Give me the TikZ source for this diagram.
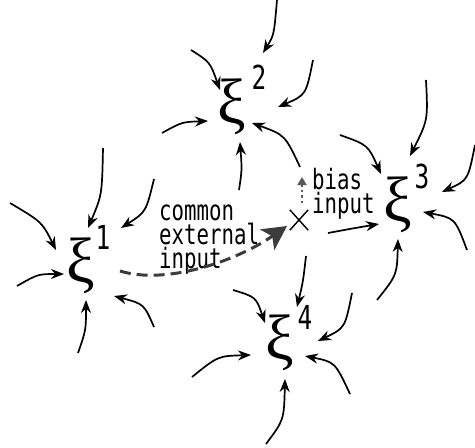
\documentclass[tikz,border=0pt]{standalone}
\usepackage{fontspec}
\usetikzlibrary{arrows.meta,shapes.misc}
\newfontfamily\gfont[FakeStretch=0.74]{DejaVu Sans Mono}
\newfontfamily\xifont{Liberation Serif}
\definecolor{dashgray}{HTML}{3C3C3C}
\definecolor{dotgray}{HTML}{5A5A5A}

\begin{document}
\begin{tikzpicture}[x=1pt,y=-1pt,
  xi/.style={inner sep=0pt, font=\xifont\fontsize{64}{64}\selectfont},
  idx/.style={inner sep=0pt, font=\gfont\fontsize{33}{33}\selectfont},
  lbl/.style={inner sep=0pt, align=left, font=\gfont\fontsize{28}{24}\selectfont},
  feed/.style={line width=1.7pt, -{Stealth[length=13pt,width=10pt]}},
  extin/.style={dashgray, line width=3pt, dash pattern=on 11pt off 6pt,
    -{Stealth[length=24pt,width=25pt,inset=6pt]}},
  biasin/.style={dotgray, line width=2.2pt, dash pattern=on 2.5pt off 3pt,
    -{Triangle[length=8pt,width=9pt]}}
]
\useasboundingbox (0,0) rectangle (475,448);

% the four units
\node[xi] (x1) at (81,266) {ξ};
\node[xi] (x2) at (232,107) {ξ};
\node[xi] (x3) at (398,205) {ξ};
\node[xi] (x4) at (280,343) {ξ};
\node[idx] (n1) at ([shift={(22,-29)}]x1.center) {1};
\node[idx] (n2) at ([shift={(27,-30)}]x2.center) {2};
\node[idx] (n3) at ([shift={(24,-29)}]x3.center) {3};
\node[idx] (n4) at ([shift={(25,-26)}]x4.center) {4};

% summing point of the external inputs
\node[cross out, draw, line width=1.4pt, minimum width=17pt, minimum height=19pt,
  inner sep=0pt] (xm) at (299,220) {};

% labels
\node[lbl, anchor=base west] (tc) at (159,268) {common\\external\\input};
\node[lbl, anchor=base west] (tb) at (312,213) {bias\\input};

% free ends of the incoming links
\coordinate (a1) at (10,203);  \coordinate (b1) at (103,148);
\coordinate (c1) at (154,179); \coordinate (d1) at (17,286);
\coordinate (e1) at (78,353);  \coordinate (f1) at (154,327);
\coordinate (a2) at (277,0);   \coordinate (b2) at (313,60);
\coordinate (c2) at (191,50);  \coordinate (d2) at (162,133);
\coordinate (e2) at (239,190); \coordinate (f2) at (300,167);
\coordinate (a3) at (340,135); \coordinate (b3) at (426,80);
\coordinate (c3) at (475,145); \coordinate (e3) at (377,300);
\coordinate (f3) at (467,250);
\coordinate (b4) at (233,290); \coordinate (c4) at (352,293);
\coordinate (d4) at (192,377); \coordinate (e4) at (266,444);
\coordinate (f4) at (350,394);
\coordinate (bt) at (302,177);

% links into unit 1
\draw[feed] (a1) .. controls (42,222) .. ([shift={(-25,-16)}]x1.center);
\draw[feed] (b1) .. controls (102,195) .. ([shift={(7,-38)}]x1.center);
\draw[feed] (c1) .. controls (146,212) .. ([shift={(40,-38)}]x1.center);
\draw[feed] (d1) .. controls (38,274) .. ([shift={(-17,8)}]x1.center);
\draw[feed] (e1) .. controls (86,330) .. ([shift={(5,34)}]x1.center);
\draw[feed] (f1) .. controls (144,304) .. ([shift={(33,30)}]x1.center);

% links into unit 2
\draw[feed] (a2) .. controls (274,35) .. ([shift={(31,-54)}]x2.center);
\draw[feed] (b2) .. controls (306,95) .. ([shift={(46,0)}]x2.center);
\draw[feed] (c2) .. controls (210,62) .. ([shift={(-12,-17)}]x2.center);
\draw[feed] (d2) .. controls (182,122) .. ([shift={(-24,14)}]x2.center);
\draw[feed] (e2) .. controls (242,170) .. ([shift={(8,35)}]x2.center);
\draw[feed] (f2) .. controls (285,135) .. ([shift={(20,16)}]x2.center);

% links into unit 3
\draw[feed] (a3) .. controls (368,145) .. ([shift={(-17,-31)}]x3.center);
\draw[feed] (b3) .. controls (428,120) .. ([shift={(12,-49)}]x3.center);
\draw[feed] (c3) .. controls (468,180) .. ([shift={(44,-13)}]x3.center);
\draw[feed] ([shift={(29,13)}]xm.center) .. controls (355,228) .. ([shift={(-19,19)}]x3.center);
\draw[feed] (e3) .. controls (397,275) .. ([shift={(0,34)}]x3.center);
\draw[feed] (f3) .. controls (455,218) .. ([shift={(25,7)}]x3.center);

% links into unit 4
\draw[feed] ([shift={(7,36)}]xm.center) .. controls (303,282) .. ([shift={(17,-36)}]x4.center);
\draw[feed] (b4) .. controls (256,297) .. ([shift={(-15,-20)}]x4.center);
\draw[feed] (c4) .. controls (345,328) .. ([shift={(38,-2)}]x4.center);
\draw[feed] (d4) .. controls (218,356) .. ([shift={(-29,12)}]x4.center);
\draw[feed] (e4) .. controls (284,420) .. ([shift={(5,36)}]x4.center);
\draw[feed] (f4) .. controls (335,362) .. ([shift={(25,13)}]x4.center);

% common external input and bias input
\draw[extin] ([shift={(39,5)}]x1.center) .. controls (165,285) and (235,262) .. ([shift={(-12,6)}]xm.center);
\draw[biasin] ([shift={(3,-17)}]xm.center) -- (bt);
\end{tikzpicture}
\end{document}
